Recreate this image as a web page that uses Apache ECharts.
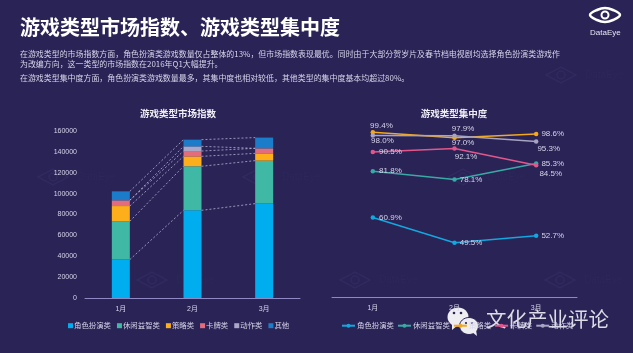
<!DOCTYPE html>
<html>
<head>
<meta charset="utf-8">
<style>
html, body { margin: 0; padding: 0; background: #2a2356; }
#chart { width: 633px; height: 353px; }
</style>
<script src="https://cdn.jsdelivr.net/npm/echarts@6/dist/echarts.min.js"></script>
</head>
<body>
<div id="chart"></div>
<script>
const months = ['1月', '2月', '3月']

// 游戏类型市场指数
const rpgIndex = [36800, 84000, 90400]
const casualIndex = [36700, 42200, 41200]
const strategyIndex = [14600, 9500, 7000]
const cardIndex = [5500, 5100, 4800]
const actionIndex = [0, 4500, 0]
const otherIndex = [8600, 6400, 10300]

// 游戏类型集中度
const rpgShare = [60.9, 49.5, 52.7]
const casualShare = [81.8, 78.1, 85.3]
const strategyShare = [99.4, 97.0, 98.6]
const cardShare = [90.5, 92.1, 84.5]
const actionShare = [98.0, 97.9, 95.3]

const barColors = ['#00aeef', '#3fb9a6', '#fdae1b', '#e36d7c', '#a9a8c6', '#1b7cc9']
const lineColors = ['#12a7df', '#38aaa6', '#f2a81f', '#e2578b', '#a6a4c2']
const textColor = '#d6d4ea'
const fontFamily = '"Liberation Sans", "Noto Sans CJK SC", sans-serif'

const barSeries = [
  ['角色扮演类', rpgIndex],
  ['休闲益智类', casualIndex],
  ['策略类', strategyIndex],
  ['卡牌类', cardIndex],
  ['动作类', actionIndex],
  ['其他', otherIndex]
]

// trailing space keeps these apart from the bar series in the legends
const lineSeries = [
  ['角色扮演类 ', rpgShare],
  ['休闲益智类 ', casualShare],
  ['策略类 ', strategyShare],
  ['卡牌类 ', cardShare],
  ['动作类 ', actionShare]
]

// label nudges, one [dx, dy] per point
const labelOffsets = [
  [[-1, 0], [-2, 0], [-2, 0]],
  [[-1, 0], [-2, 0], [-2, 0]],
  [[-10, -7], [-10, 5.5], [-2, 0]],
  [[-1, 0], [-7, 8.5], [-4, 8]],
  [[-9, 5], [-10, -7], [-6, 7]]
]

const introLines = [
  '在游戏类型的市场指数方面，角色扮演类游戏数量仅占整体的13%，但市场指数表现最优。同时由于大部分贺岁片及春节档电视剧均选择角色扮演类游戏作',
  '为改编方向，这一类型的市场指数在2016年Q1大幅提升。',
  '在游戏类型集中度方面，角色扮演类游戏数量最多，其集中度也相对较低，其他类型的集中度基本均超过80%。'
]

// running stack tops, used for the dashed connectors between bars
const stackTops = []
barSeries.forEach((s, i) => {
  stackTops.push(s[1].map((v, m) => v + (i ? stackTops[i - 1][m] : 0)))
})
const connectorData = []
stackTops.forEach(tops => {
  for (let m = 0; m < months.length - 1; m++) {
    connectorData.push([m, tops[m], tops[m + 1]])
  }
})

const renderConnector = (params, api) => {
  const m = api.value(0)
  const halfBar = 9
  const a = api.coord([m, api.value(1)])
  const b = api.coord([m + 1, api.value(2)])
  return {
    type: 'line',
    shape: { x1: a[0] + halfBar, y1: a[1], x2: b[0] - halfBar, y2: b[1] },
    style: { stroke: '#c9c6e6', lineWidth: 0.7, lineDash: [2, 2] }
  }
}

const watermark = (x, y) => ({
  type: 'group',
  x,
  y,
  z: 1,
  children: [
    { type: 'polygon', shape: { points: [[-15, 0], [0, -8], [15, 0], [0, 8]] }, style: { fill: 'none', stroke: '#312a5f', lineWidth: 1.5 } },
    { type: 'circle', shape: { cx: 0, cy: 0, r: 4 }, style: { fill: 'none', stroke: '#312a5f', lineWidth: 1.5 } },
    { type: 'text', x: 24, y: -5, style: { text: 'DataEye', fill: '#2e2759', font: '10px ' + fontFamily } }
  ]
})

const option = {
  backgroundColor: '#2a2356',
  animation: false,
  textStyle: { fontFamily },
  title: [
    { text: '游戏类型市场指数', left: 178, top: 110, padding: 0, textAlign: 'center', textStyle: { color: '#f0eff8', fontSize: 9.5, fontWeight: 'bold', fontFamily } },
    { text: '游戏类型集中度', left: 454, top: 110, padding: 0, textAlign: 'center', textStyle: { color: '#f0eff8', fontSize: 9.5, fontWeight: 'bold', fontFamily } }
  ],
  grid: [
    { left: 85, top: 131, width: 215, height: 167 },
    { left: 332, top: 131, width: 245, height: 166 }
  ],
  legend: [
    {
      left: 68,
      top: 322,
      padding: 0,
      itemWidth: 5,
      itemHeight: 5,
      itemGap: 6,
      icon: 'rect',
      data: barSeries.map(s => s[0]),
      textStyle: { color: textColor, fontSize: 7.4, fontFamily, padding: [0, 0, 0, -4] }
    },
    {
      left: 341,
      top: 322,
      padding: 0,
      itemWidth: 13,
      itemHeight: 5,
      itemGap: 3,
      data: lineSeries.map(s => s[0]),
      formatter: name => name.trim(),
      textStyle: { color: textColor, fontSize: 7.4, fontFamily, padding: [0, 0, 0, -3] }
    }
  ],
  xAxis: [
    {
      type: 'category',
      gridIndex: 0,
      data: months,
      axisTick: { show: false },
      axisLine: { lineStyle: { color: '#8f88c4', width: 1 } },
      axisLabel: { color: textColor, fontSize: 7, margin: 8 }
    },
    {
      type: 'category',
      gridIndex: 1,
      data: months,
      axisTick: { show: false },
      axisLine: { lineStyle: { color: '#8f88c4', width: 1 } },
      axisLabel: { color: textColor, fontSize: 7, margin: 8 }
    }
  ],
  yAxis: [
    {
      type: 'value',
      gridIndex: 0,
      min: 0,
      max: 160000,
      interval: 20000,
      axisLine: { show: false },
      axisTick: { show: false },
      splitLine: { show: false },
      axisLabel: { color: textColor, fontSize: 7, margin: 8, formatter: v => String(v) }
    },
    { type: 'value', gridIndex: 1, min: 25, max: 100, show: false }
  ],
  series: [
    ...barSeries.map((s, i) => ({
      name: s[0],
      type: 'bar',
      stack: 'index',
      xAxisIndex: 0,
      yAxisIndex: 0,
      barWidth: 18,
      data: s[1],
      itemStyle: { color: barColors[i] }
    })),
    {
      type: 'custom',
      xAxisIndex: 0,
      yAxisIndex: 0,
      data: connectorData,
      renderItem: renderConnector,
      silent: true,
      z: 5
    },
    ...lineSeries.map((s, i) => ({
      name: s[0],
      type: 'line',
      xAxisIndex: 1,
      yAxisIndex: 1,
      data: s[1].map((v, m) => ({
        value: v,
        label: { offset: labelOffsets[i][m] }
      })),
      symbol: 'circle',
      symbolSize: 4.5,
      lineStyle: { color: lineColors[i], width: 1.5 },
      itemStyle: { color: lineColors[i] },
      label: {
        show: true,
        position: 'right',
        distance: 5,
        color: textColor,
        fontSize: 8,
        formatter: p => p.value.toFixed(1) + '%'
      }
    }))
  ],
  graphic: [
    watermark(53, 177),
    watermark(258, 177),
    watermark(463, 177),
    watermark(152, 280),
    watermark(355, 280),
    watermark(560, 280),
    watermark(561, 75),
    { type: 'text', x: 20, y: 17, z: 20, style: { text: '游戏类型市场指数、游戏类型集中度', fill: '#ffffff', font: 'bold 20px "Noto Sans CJK SC", sans-serif' } },
    ...introLines.map((line, i) => ({
      type: 'text',
      x: 20,
      y: [50, 60, 74][i],
      z: 20,
      style: { text: line, fill: textColor, font: '7.95px "Noto Sans CJK SC", sans-serif' }
    })),
    // DataEye logo
    {
      type: 'group',
      x: 605,
      y: 15,
      z: 20,
      children: [
        { type: 'polygon', shape: { points: [[-15, 0], [-8, -5], [0, -7], [8, -5], [15, 0], [8, 5], [0, 7], [-8, 5]], smooth: 0.4 }, style: { fill: 'none', stroke: '#ffffff', lineWidth: 2.5 } },
        { type: 'circle', shape: { cx: 0, cy: 0, r: 3.5 }, style: { fill: 'none', stroke: '#ffffff', lineWidth: 2 } },
        { type: 'text', x: -15, y: 14, style: { text: 'DataEye', fill: '#e6e5f2', font: '8px ' + fontFamily } }
      ]
    },
    // WeChat badge and account name laid over the legend
    {
      type: 'group',
      x: 0,
      y: 0,
      z: 30,
      children: [
        { type: 'ellipse', shape: { cx: 458, cy: 317, rx: 10.5, ry: 9.5 }, style: { fill: '#eeeef2' } },
        { type: 'polygon', shape: { points: [[452, 323], [452, 330], [458, 325]] }, style: { fill: '#eeeef2' } },
        { type: 'circle', shape: { cx: 454, cy: 313, r: 1.3 }, style: { fill: '#2a2356' } },
        { type: 'circle', shape: { cx: 461, cy: 313, r: 1.3 }, style: { fill: '#2a2356' } },
        { type: 'ellipse', shape: { cx: 469, cy: 326, rx: 9.5, ry: 8.5 }, style: { fill: '#eeeef2', stroke: '#2a2356', lineWidth: 1 } },
        { type: 'polygon', shape: { points: [[472, 332], [477, 336], [476, 330]] }, style: { fill: '#eeeef2' } },
        { type: 'circle', shape: { cx: 466, cy: 323, r: 1.1 }, style: { fill: '#2a2356' } },
        { type: 'circle', shape: { cx: 472, cy: 323, r: 1.1 }, style: { fill: '#2a2356' } },
        { type: 'text', x: 486, y: 309, style: { text: '文化产业评论', fill: '#dcdce6', font: '20.5px "Noto Sans CJK SC", sans-serif' } }
      ]
    }
  ]
}

const chartInstance = echarts.init(document.getElementById('chart'))
chartInstance.setOption(option)
</script>
</body>
</html>
